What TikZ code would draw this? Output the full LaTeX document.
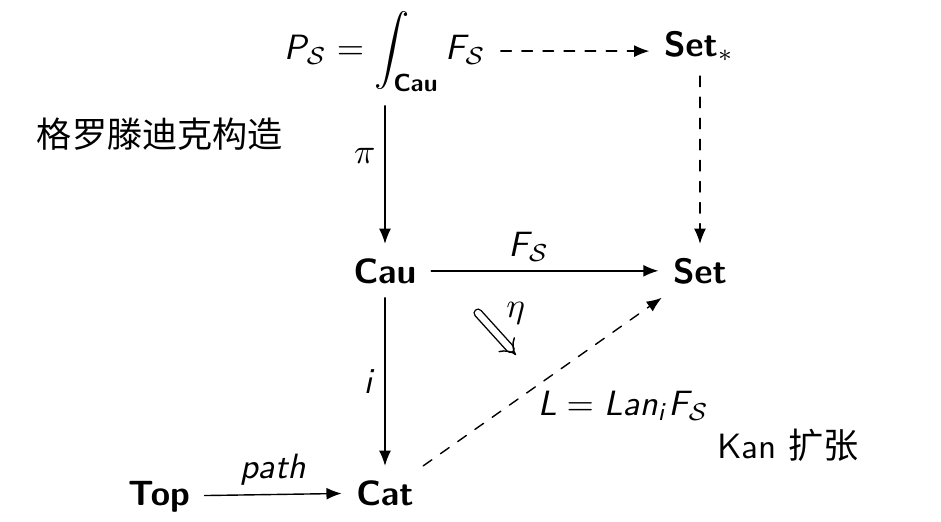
\documentclass[tikz,border=0pt]{standalone}
\usepackage[no-math]{fontspec}
\newfontfamily\cjk{Noto Sans CJK SC}
\renewcommand{\familydefault}{\sfdefault}
\usepackage{amssymb,amsmath}
\makeatletter
\DeclareSymbolFont{sflets}{OT1}{cmss}{m}{sl}
\DeclareMathAlphabet{\mathbf}{OT1}{cmss}{bx}{n}
\count@=`A
\loop
  \mathcode\count@=\numexpr"7000+\symsflets*"100+\count@\relax
\ifnum\count@<`Z \advance\count@\@ne\repeat
\count@=`a
\loop
  \mathcode\count@=\numexpr"7000+\symsflets*"100+\count@\relax
\ifnum\count@<`z \advance\count@\@ne\repeat
\makeatother
\usetikzlibrary{arrows}
\usetikzlibrary{arrows.meta}
\begin{document}
\begin{tikzpicture}[line cap=round,line join=round,>={Latex[length=4.3pt,width=3.4pt]},x=1.0cm,y=1.0cm,
        obj/.style={anchor=base,inner sep=4pt},
        lbl/.style={inner sep=2.5pt}]
        \useasboundingbox (0,0) rectangle (9.41,-5.21);
        \node[obj,inner ysep=1.5pt] (P) at (3.85,-0.59) {$P_{\mathcal{S}}=\displaystyle\int_{\mathbf{Cau}}F_{\mathcal{S}}$};
        \node[obj] (Setp) at (6.99,-0.56) {$\mathbf{Set}_{*}$};
        \node[obj] (Cau) at (3.85,-2.83) {$\mathbf{Cau}$};
        \node[obj] (Set) at (7.00,-2.83) {$\mathbf{Set}$};
        \node[obj] (Top) at (1.59,-5.05) {$\mathbf{Top}$};
        \node[obj] (Cat) at (3.85,-5.05) {$\mathbf{Cat}$};
        \node[anchor=base] (groth) at (1.60,-1.47) {\cjk 格罗滕迪克构造};
        \node[anchor=base] (kan) at (7.88,-4.58) {Kan {\cjk 扩张}};
        \draw[->,dashed,color=black] (P.east) -- (P.east -| Setp.west);
        \draw[->,color=black,shorten <=2.5pt] (P) -- node[lbl,left,pos=0.4] {$\pi$} (Cau);
        \draw[->,dashed,color=black] (Set |- Setp.south) -- (Set.north);
        \draw[->,color=black] (Cau) -- node[lbl,above,pos=0.43] {$F_{\mathcal{S}}$} (Set);
        \draw[->,color=black] (Cau) -- node[lbl,left] {$i$} (Cat);
        \draw[->,color=black] (Top) -- node[lbl,above] {$path$} (Cat);
        \draw[->,dashed,color=black] (Cat) -- node[lbl,below right,xshift=-4pt] {$L=Lan_iF_{\mathcal{S}}$} (Set);
        \coordinate (eta1) at (4.78,-3.13);
        \coordinate (eta2) at (5.16,-3.55);
        \draw[double,double distance=1.8pt,-{Implies},color=black] (eta1) -- node[lbl,above right] {$\eta$} (eta2);
\end{tikzpicture}
\end{document}
